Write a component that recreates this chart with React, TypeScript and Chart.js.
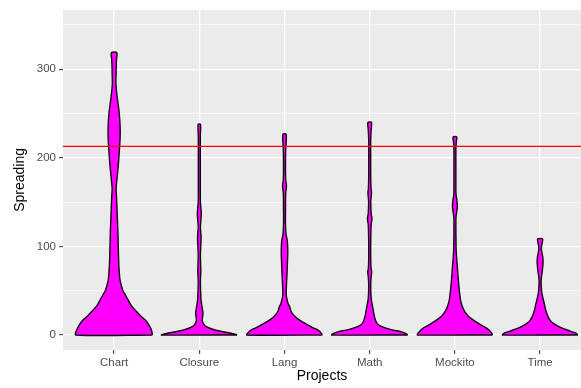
import React, { useEffect, useRef } from 'react';
import { Chart, registerables } from 'chart.js';

Chart.register(...registerables);

// ---- data ----
const projects = ['Chart', 'Closure', 'Lang', 'Math', 'Mockito', 'Time'];
const yTickValues = [0, 50, 100, 150, 200, 250, 300, 350];
const threshold = 213;

// violin outlines: value levels and relative density (half-width) at each level
const chartValues = [0, 5.6, 11, 16.8, 22, 28, 33, 39, 45, 50, 56, 62, 70, 81, 100, 118, 137, 155, 165, 175, 185, 198, 211, 220, 230, 240, 249, 258, 267, 278, 284, 295, 305, 312, 318.7];
const chartDensity = [39, 38, 35.5, 31.7, 26.5, 21.5, 17.5, 14.5, 11.5, 9, 7.3, 6, 5.3, 4.7, 4.2, 3.8, 3.1, 2.5, 2, 2.8, 3.7, 4.7, 5.5, 6, 6.2, 5.9, 5.3, 4.4, 3.3, 2.2, 1.8, 2, 2.2, 2.5, 2.8];

const closureValues = [0, 1.5, 3, 5.6, 9.3, 13, 17, 24, 31.8, 39, 47, 60, 73, 90, 110, 122, 136.5, 150, 170, 200, 225, 237.6];
const closureDensity = [38.5, 34, 27, 16, 7, 4, 3, 3.7, 2.8, 1.8, 1.4, 1.1, 1.5, 1.1, 1.8, 1.1, 2, 1.1, 1, 1, 1, 1.2];

const langValues = [0, 2.5, 5.6, 8, 11, 14, 16.8, 20, 24, 28, 31.8, 35, 39, 43, 47, 54, 61.7, 70, 76.7, 85, 92, 100, 106.6, 111, 114, 125, 140, 160, 168, 176, 190, 210, 226.4];
const langDensity = [38.5, 37, 34, 29, 24, 19.5, 15.3, 11.5, 8, 6.3, 5.3, 3.8, 2.8, 2, 1.7, 1.9, 2.2, 2.6, 2.8, 3.1, 3.3, 3.2, 2.8, 2, 1.5, 1, 1, 1.2, 2, 1.2, 1, 1.2, 1.7];

const mathValues = [0, 2, 3.7, 5.5, 7.5, 9.5, 11.2, 14, 16.8, 20, 24, 28, 31.8, 36, 41, 50, 60, 66, 71, 76, 90, 110, 125, 131, 137, 150, 156, 161, 166, 180, 200, 220, 232, 240];
const mathDensity = [38.7, 36, 31.7, 24, 17.5, 12.5, 9.2, 7, 5.8, 5, 4.2, 3.6, 3, 2.2, 1.5, 1.1, 1.1, 1.5, 2, 1.3, 1, 1.1, 1.5, 2.3, 1.5, 1.1, 1.5, 1.8, 1.3, 1, 1, 1, 1.5, 1.8];

const mockitoValues = [0, 2, 5, 7.5, 10, 13, 17, 20.5, 24, 28, 33, 39, 48, 58, 67, 76.7, 86, 95, 105, 120, 133, 140, 146, 152, 159, 170, 190, 210, 218, 223.7];
const mockitoDensity = [38.2, 37.5, 35, 32.5, 28.5, 24, 18.5, 14.2, 11.5, 9.2, 7.3, 5.8, 4.7, 3.8, 3.1, 2.5, 1.8, 1.3, 1.1, 1, 1.1, 2, 2.5, 2, 1.1, 1, 1, 1, 1.4, 1.8];

const timeValues = [0, 1.9, 3.7, 5.6, 7.5, 9.3, 13, 16.8, 20.5, 24.4, 30, 35.6, 41, 47, 53, 60, 65, 70, 75, 80, 84, 88, 92, 97, 101, 105, 108.5];
const timeDensity = [38.3, 36.7, 32, 27.5, 23, 19, 13.5, 10, 8.2, 6.7, 5.3, 4.2, 3, 1.8, 1.3, 1, 1.3, 2, 2.5, 2.9, 3, 2.7, 2, 1.3, 1.6, 2.3, 2.5];

const violinValues = [chartValues, closureValues, langValues, mathValues, mockitoValues, timeValues];
const violinDensity = [chartDensity, closureDensity, langDensity, mathDensity, mockitoDensity, timeDensity];

// ---- styling / layout ----
const FONT = '"Liberation Sans", Arial, Helvetica, sans-serif';
const X_MIN = 0.4;
const X_MAX = 6.48;
const Y_MIN = -17;
const Y_MAX = 367;
const HALF_MAX = 0.45;

function buildOutline(pos: number, values: number[], density: number[], maxD: number) {
  const right = values.map((v, k) => ({ x: pos + (density[k] / maxD) * HALF_MAX, y: v }));
  const left = values.map((v, k) => ({ x: pos - (density[k] / maxD) * HALF_MAX, y: v })).reverse();
  return [...right, ...left, right[0]];
}

const panelBg = {
  id: 'panelBg',
  beforeDraw(chart: any) {
    const { ctx, chartArea } = chart;
    ctx.save();
    ctx.fillStyle = '#FFFFFF';
    ctx.fillRect(0, 0, chart.width, chart.height);
    ctx.fillStyle = '#EBEBEB';
    ctx.fillRect(chartArea.left, chartArea.top, chartArea.right - chartArea.left, chartArea.bottom - chartArea.top);
    ctx.restore();
  },
};

export default function App() {
  const ref = useRef<HTMLCanvasElement | null>(null);

  useEffect(() => {
    if (!ref.current) return;
    const maxD = Math.max(...violinDensity.flat());
    const violinSets = projects.map((name, i) => ({
      label: name,
      data: buildOutline(i + 1, violinValues[i], violinDensity[i], maxD),
      borderColor: '#110011',
      backgroundColor: '#FF00FF',
      borderWidth: 1.4,
      fill: 'shape',
      tension: 0.3,
      pointRadius: 0,
      borderJoinStyle: 'round',
      order: 2,
    }));
    const lineSet = {
      label: 'threshold',
      data: [
        { x: X_MIN, y: threshold },
        { x: X_MAX, y: threshold },
      ],
      borderColor: '#FF0000',
      borderWidth: 1.2,
      pointRadius: 0,
      fill: false,
      tension: 0,
      order: 1,
    };

    const chart = new Chart(ref.current, {
      type: 'line',
      data: { datasets: [lineSet as any, ...(violinSets as any[])] },
      options: {
        animation: false,
        responsive: false,
        events: [],
        layout: { padding: { top: 8, left: 0, right: 0, bottom: 0 } },
        plugins: { legend: { display: false }, tooltip: { enabled: false } },
        scales: {
          x: {
            type: 'linear',
            min: X_MIN,
            max: X_MAX,
            afterBuildTicks: (scale: any) => {
              scale.ticks = projects.map((_, i) => ({ value: i + 1 }));
            },
            afterFit: (scale: any) => {
              scale.height = 38;
            },
            ticks: {
              callback: (_v: any, idx: number) => projects[idx],
              color: '#4D4D4D',
              font: { family: FONT, size: 11.5 },
              padding: 2,
              maxRotation: 0,
              autoSkip: false,
            },
            grid: {
              color: '#FFFFFF',
              lineWidth: 1.3,
              drawTicks: true,
              tickLength: 4,
              tickColor: '#333333',
              tickWidth: 1,
            },
            border: { display: false },
            title: {
              display: true,
              text: 'Projects',
              color: '#000000',
              font: { family: FONT, size: 14 },
              padding: { top: 0, bottom: 3 },
            },
          },
          y: {
            type: 'linear',
            min: Y_MIN,
            max: Y_MAX,
            afterBuildTicks: (scale: any) => {
              scale.ticks = yTickValues.map((v) => ({ value: v }));
            },
            afterFit: (scale: any) => {
              scale.width = 63;
            },
            ticks: {
              callback: (v: any) => (Number(v) % 100 === 0 ? String(v) : ''),
              color: '#4D4D4D',
              font: { family: FONT, size: 11.5 },
              padding: 3,
            },
            grid: {
              color: '#FFFFFF',
              lineWidth: (ctx: any) => (ctx.tick && ctx.tick.value % 100 === 0 ? 1.3 : 0.65),
              drawTicks: true,
              tickLength: 4,
              tickColor: (ctx: any) => (ctx.tick && ctx.tick.value % 100 === 0 ? '#333333' : 'rgba(0,0,0,0)'),
              tickWidth: 1,
            },
            border: { display: false },
            title: {
              display: true,
              text: 'Spreading',
              color: '#000000',
              font: { family: FONT, size: 14 },
              padding: { top: 12, bottom: 0 },
            },
          },
        },
      },
      plugins: [panelBg],
    });
    return () => chart.destroy();
  }, []);

  return (
    <div style={{ position: 'absolute', left: 0, top: 0, width: 581, height: 388 }}>
      <canvas ref={ref} width={581} height={388} style={{ display: 'block' }} />
    </div>
  );
}
